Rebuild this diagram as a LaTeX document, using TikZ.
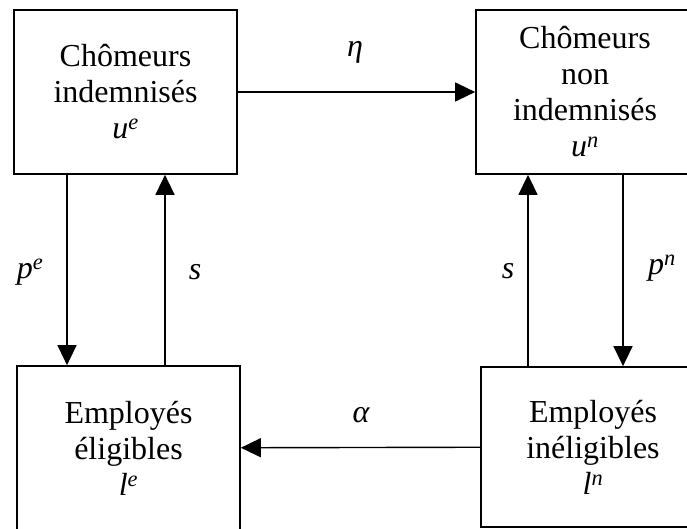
\documentclass[tikz,border=0pt]{standalone}
\usepackage{fontspec}
\setmainfont{Liberation Serif}
\usetikzlibrary{arrows.meta}
\begin{document}
\begin{tikzpicture}[x=1pt,y=-1pt,
  box/.style={draw, line width=1.7pt, align=center, font=\fontsize{32}{36}\selectfont, inner sep=0pt},
  flow/.style={line width=1.4pt, -{Triangle[length=20pt,width=19pt]}},
  lab/.style={font=\fontsize{32}{36}\selectfont\itshape, inner sep=0pt}]
\useasboundingbox (0,0) rectangle (687,529);
\clip (0,0) rectangle (687,529);
\node[box, minimum width=223pt, minimum height=164pt] (ue) at (125.5,92)
  {Chômeurs\\indemnisés\\\textit{u}\textsuperscript{\itshape e}};
\node[box, minimum width=218pt, minimum height=164pt] (un) at (585,92)
  {Chômeurs\\non\\indemnisés\\\textit{u}\textsuperscript{\itshape n}};
\node[box, minimum width=223pt, minimum height=164pt] (le) at (128.5,448)
  {Employés\\éligibles\\\textit{l}\textsuperscript{\itshape e}};
\node[box, minimum width=224pt, minimum height=160pt] (ln) at (593,447)
  {Employés\\inéligibles\\\textit{l}\textsuperscript{\itshape n}};
\coordinate (xa) at (67,0);
\coordinate (xb) at (165,0);
\coordinate (xc) at (528,0);
\coordinate (xd) at (623,0);
\draw[flow] (ue) -- (un);
\draw[flow] (ln) -- (le);
\draw[flow] (ue.south -| xa) -- (le.north -| xa);
\draw[flow] (le.north -| xb) -- (ue.south -| xb);
\draw[flow] (ln.north -| xc) -- (un.south -| xc);
\draw[flow] (un.south -| xd) -- (ln.north -| xd);
\node[lab] (eta) at (355,52) {η};
\node[lab] (alpha) at (361,415) {α};
\node[lab] (pe) at (30,272) {p\textsuperscript{e}};
\node[lab] (s1) at (195,272) {s};
\node[lab] (s2) at (508,271) {s};
\node[lab] (pn) at (662,268) {p\textsuperscript{n}};
\end{tikzpicture}
\end{document}
